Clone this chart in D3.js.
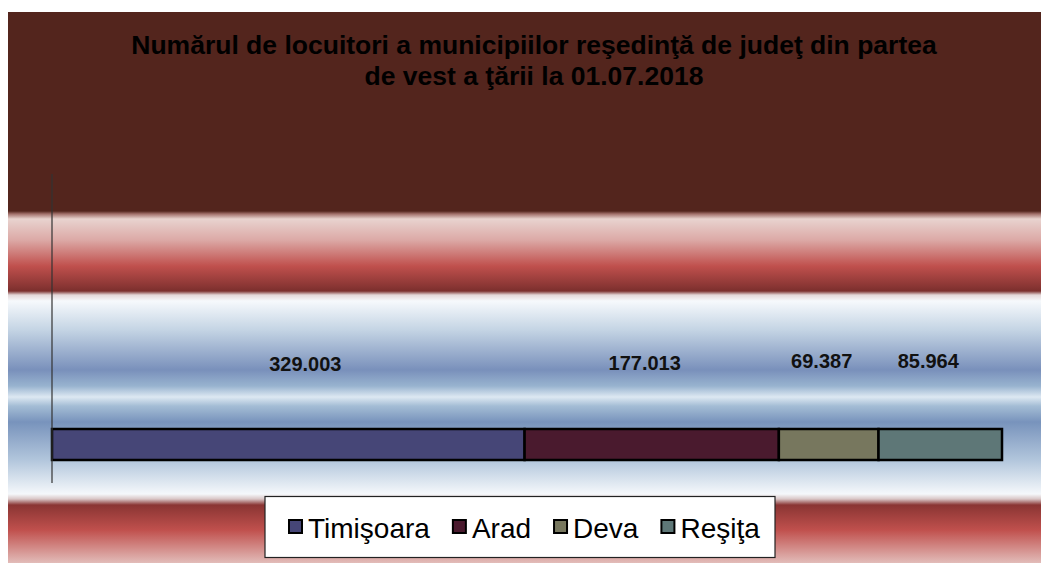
<!DOCTYPE html>
<html>
<head>
<meta charset="utf-8">
<script src="https://cdn.jsdelivr.net/npm/d3@7"></script>
<style>
  html, body { margin: 0; padding: 0; background: #ffffff; }
  svg { display: block; font-family: "Liberation Sans", Arial, sans-serif; }
</style>
</head>
<body>
<svg id="chart" width="1041" height="563"></svg>
<script>
const titleLines = ["Numărul de locuitori a municipiilor reşedinţă de judeţ din partea", "de vest a ţării la 01.07.2018"];
const categories = ["Timişoara", "Arad", "Deva", "Reşiţa"];
const values = [329003, 177013, 69387, 85964];
const valueLabels = ["329.003", "177.013", "69.387", "85.964"];
const colors = ["#464677", "#4a1a2e", "#77775e", "#5e7777"];

const svg = d3.select("#chart");
const W = 1041, H = 563;

// background gradient
const defs = svg.append("defs");
const bgTop = 12, bgBot = 563;
const stops = [
  [12, "#53251d"], [211, "#53251d"], [214, "#a3726c"], [219, "#e8d3cf"],
  [240, "#dca9a6"], [266, "#c0504d"], [286, "#8a3634"], [291, "#7b2f2d"],
  [295, "#e3d7d8"], [301, "#f6f9fc"], [330, "#c4d4e4"], [370, "#7990bb"],
  [386, "#98b3cf"], [397, "#dde8f2"], [406, "#a4bdd5"], [422, "#7893bc"],
  [460, "#b2c6dc"], [494, "#f5f8fb"], [499, "#d9c6c6"], [505, "#8a3533"],
  [530, "#c0504d"], [563, "#e2bcb9"]
];
const grad = defs.append("linearGradient").attr("id", "bg")
  .attr("x1", 0).attr("y1", 0).attr("x2", 0).attr("y2", 1);
grad.selectAll("stop").data(stops).join("stop")
  .attr("offset", d => (d[0] - bgTop) / (bgBot - bgTop))
  .attr("stop-color", d => d[1]);

svg.append("rect").attr("x", 8).attr("y", bgTop).attr("width", W - 8).attr("height", bgBot - bgTop)
  .attr("fill", "url(#bg)");

// title
svg.append("text").attr("text-anchor", "middle").attr("font-weight", "bold")
  .attr("font-size", 26.5).attr("fill", "#000")
  .selectAll("tspan").data(titleLines).join("tspan")
  .attr("x", 534).attr("y", (d, i) => 54 + i * 31).text(d => d);

// scales
const total = d3.sum(values);
const x = d3.scaleLinear().domain([0, total]).range([52, 1002]);

const cum = d3.cumsum(values);
const segs = values.map((v, i) => ({ cat: categories[i], v, x0: cum[i] - v, x1: cum[i], label: valueLabels[i], color: colors[i] }));

// bars
const barTop = 429, barH = 31;
svg.append("g").selectAll("rect").data(segs).join("rect")
  .attr("x", d => x(d.x0)).attr("y", barTop)
  .attr("width", d => x(d.x1) - x(d.x0)).attr("height", barH)
  .attr("fill", d => d.color).attr("stroke", "#000").attr("stroke-width", 2.5);

// vertical axis line
svg.append("line").attr("x1", 52).attr("x2", 52).attr("y1", 174).attr("y2", 483)
  .attr("stroke", "#333").attr("stroke-width", 1.2);

// value labels
const labelNudge = [17, -7, -7, -12];
const labelY = [371, 370, 368, 368];
svg.append("g").selectAll("text").data(segs).join("text")
  .attr("x", (d, i) => (x(d.x0) + x(d.x1)) / 2 + labelNudge[i])
  .attr("y", (d, i) => labelY[i])
  .attr("text-anchor", "middle").attr("font-weight", "bold").attr("font-size", 20)
  .attr("fill", "#111").text(d => d.label);

// legend
const lg = svg.append("g");
lg.append("rect").attr("x", 265).attr("y", 496.5).attr("width", 510).attr("height", 61)
  .attr("fill", "#fff").attr("stroke", "#222").attr("stroke-width", 1.2);
let lx = 288;
categories.forEach((c, i) => {
  lg.append("rect").attr("x", lx + 1).attr("y", 520).attr("width", 13).attr("height", 13)
    .attr("fill", colors[i]).attr("stroke", "#000").attr("stroke-width", 2);
  const t = lg.append("text").attr("x", lx + 20).attr("y", 538).attr("font-size", 28)
    .attr("fill", "#000").text(c);
  const w = t.node().getComputedTextLength();
  lx = lx + 20 + w + 22;
});
</script>
</body>
</html>
